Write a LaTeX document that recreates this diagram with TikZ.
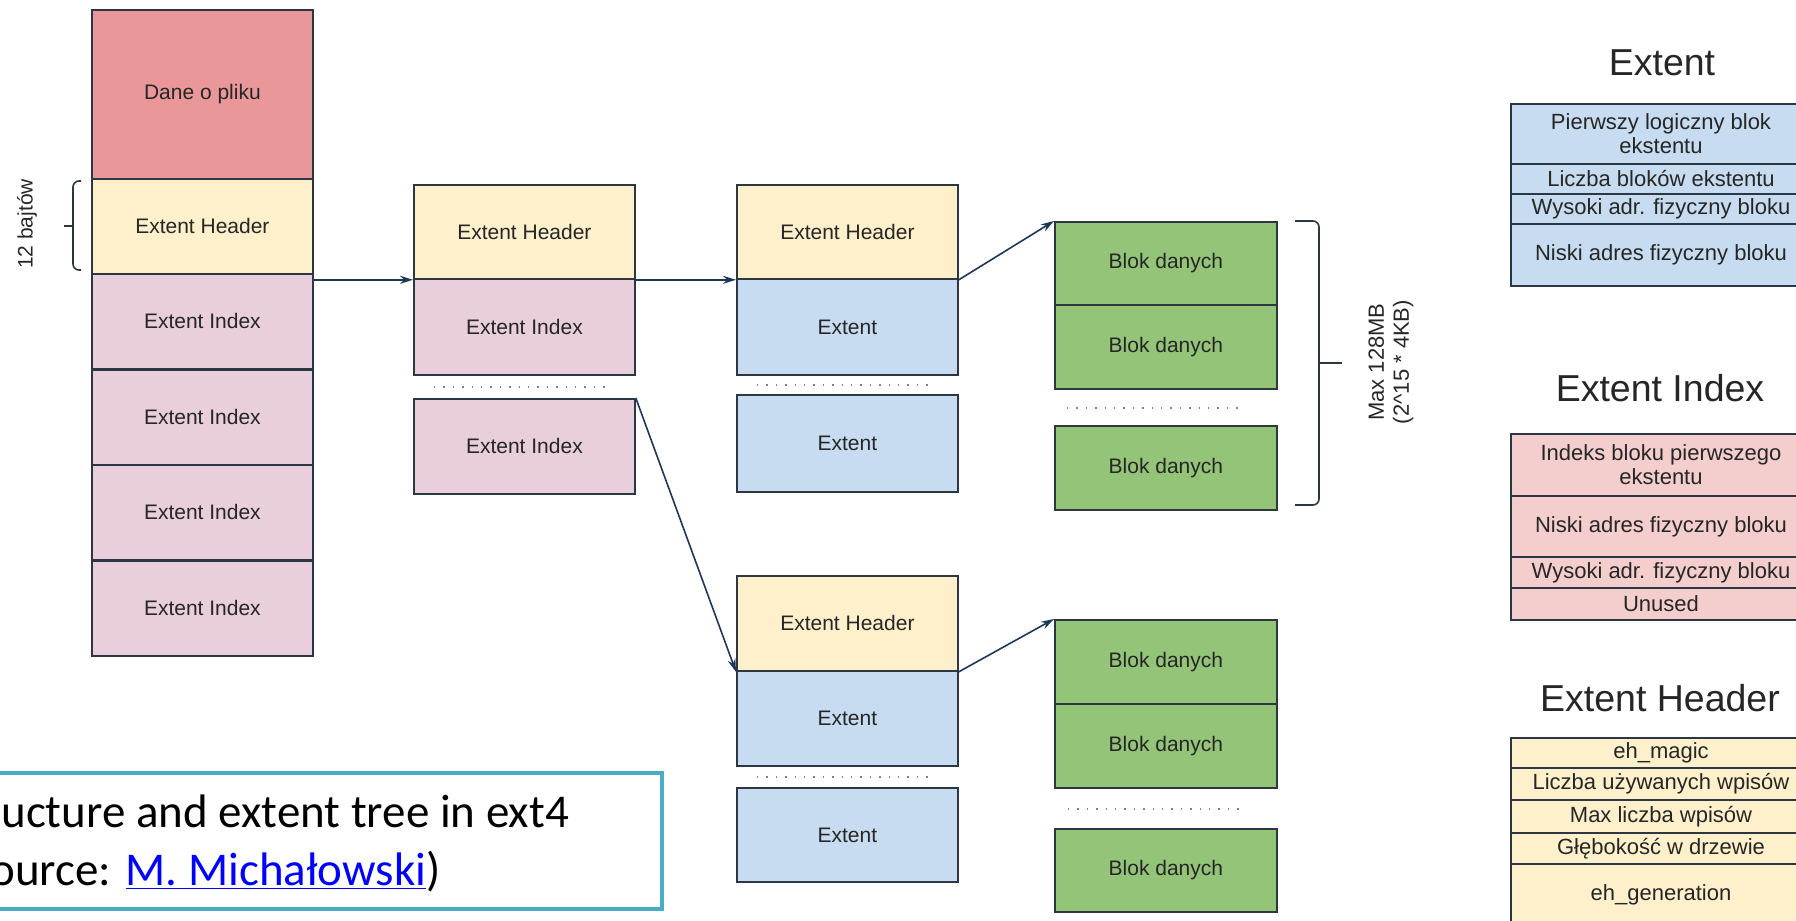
\documentclass[tikz,border=0pt]{standalone}
\usepackage{fontspec}
\setmainfont{Liberation Sans}
\newfontfamily\capfont{Carlito}
\usetikzlibrary{arrows.meta}

\definecolor{danefill}{RGB}{233,151,152}
\definecolor{hdrfill}{RGB}{253,240,203}
\definecolor{eifill}{RGB}{233,206,219}
\definecolor{extfill}{RGB}{199,220,240}
\definecolor{blkfill}{RGB}{147,196,120}
\definecolor{tpink}{RGB}{244,205,205}
\definecolor{boxline}{RGB}{45,55,68}
\definecolor{arrowc}{RGB}{30,55,88}
\definecolor{capline}{RGB}{75,172,198}
\definecolor{linkblue}{RGB}{0,0,255}

\begin{document}
\begin{tikzpicture}[x=0.5pt, y=-0.5pt,
    box/.style={draw=boxline, line width=0.9pt, minimum width=110.5pt, inner sep=0pt,
        anchor=north west, text=black!85, font=\fontsize{10.5}{12}\selectfont},
    hdr/.style={box, fill=hdrfill},
    eidx/.style={box, fill=eifill},
    ext/.style={box, fill=extfill},
    blk/.style={box, fill=blkfill, minimum width=111pt, minimum height=42pt},
    trow/.style={draw=boxline, line width=1pt, minimum width=150pt, inner sep=0pt,
        anchor=north west, align=center, text=black!85, font=\fontsize{11}{12}\selectfont},
    ttl/.style={text=black!85, font=\fontsize{18.75}{20}\selectfont},
    lbl/.style={text=black!85, font=\fontsize{10.5}{12.5}\selectfont, align=center},
    conn/.style={draw=arrowc, line width=0.8pt, -{Stealth[length=6.5pt, width=4pt]}},
    brc/.style={draw=boxline, line width=0.8pt, rounded corners=3pt},
    dots/.style={draw=gray, line width=0.7pt, dash pattern=on 0.7pt off 4pt},
    captxt/.style={anchor=base west, inner sep=0pt, font=\capfont\fontsize{23.5}{28}\selectfont}
]
    \useasboundingbox (0,0) rectangle (1796,921);

    % inode: left column
    \node[box, fill=danefill, minimum height=84.5pt] (ldane) at (91,9) {Dane o pliku};
    \node[hdr, minimum height=47.5pt] (lhdr) at (91,178) {Extent Header};
    \foreach \y/\n in {273/1, 369/2, 464/3, 560/4}
        \node[eidx, minimum height=47.5pt] (lei\n) at (91,\y) {Extent Index};

    % 12 bytes bracket
    \draw[brc] (81,181) -- (73,181) -- (73,270) -- (81,270);
    \draw[brc] (73,226) -- (64,226);
    \node[lbl, rotate=90] (bajty) at (27,224) {12 bajtów};

    % index node
    \node[hdr, minimum height=47pt] (c1hdr) at (413,184) {Extent Header};
    \node[eidx, minimum height=48pt] (c1ei) at (413,278) {Extent Index};
    \draw[dots] (434,387) -- (610,387);
    \node[eidx, minimum height=47.5pt] (c1ei2) at (413,398) {Extent Index};

    % leaf nodes
    \node[hdr, minimum height=47pt] (c2hdr) at (736,184) {Extent Header};
    \node[ext, minimum height=48pt] (c2ext) at (736,278) {Extent};
    \draw[dots] (757,385) -- (932,385);
    \node[ext, minimum height=48.5pt] (c2ext2) at (736,394) {Extent};

    \node[hdr, minimum height=47.5pt] (c3hdr) at (736,575) {Extent Header};
    \node[ext, minimum height=47.5pt] (c3ext) at (736,670) {Extent};
    \draw[dots] (757,777) -- (933,777);
    \node[ext, minimum height=47pt] (c3ext2) at (736,787) {Extent};

    % data blocks
    \node[blk, minimum height=41.5pt] (b1) at (1054,221) {Blok danych};
    \node[blk] (b2) at (1054,304) {Blok danych};
    \draw[dots] (1067,408) -- (1243,408);
    \node[blk] (b3) at (1054,425) {Blok danych};

    \node[blk] (b4) at (1054,619) {Blok danych};
    \node[blk] (b5) at (1054,703) {Blok danych};
    \draw[dots] (1068,809) -- (1245,809);
    \node[blk, minimum height=41.5pt] (b6) at (1054,828) {Blok danych};

    % max extent size bracket
    \draw[brc] (1295,221) -- (1319,221) -- (1319,505) -- (1295,505);
    \draw[brc] (1319,363) -- (1342,363);
    \node[lbl, rotate=90, font=\fontsize{11}{12.5}\selectfont] (maxsz) at (1391,362)
        {Max 128MB\\(2\textasciicircum 15 * 4KB)};

    % pointers
    \draw[conn] (lei1.north east |- c1hdr.south west) -- (c1hdr.south west);
    \draw[conn] (c1hdr.south east) -- (c2hdr.south west);
    \draw[conn] (c2hdr.south east) -- (b1.north west);
    \draw[conn] (c1ei2.north east) -- (c3hdr.south west);
    \draw[conn] (c3hdr.south east) -- (b4.north west);

    % legend: Extent
    \node[ttl] (tExt) at (1662,63) {Extent};
    \node[trow, fill=extfill, minimum height=30pt] (x1) at (1510,103) {Pierwszy logiczny blok\\ekstentu};
    \node[trow, fill=extfill, minimum height=15pt] (x2) at (1510,163) {Liczba bloków ekstentu};
    \node[trow, fill=extfill, minimum height=15pt] (x3) at (1510,193) {Wysoki adr. fizyczny bloku};
    \node[trow, fill=extfill, minimum height=31pt] (x4) at (1510,223) {Niski adres fizyczny bloku};

    % legend: Extent Index
    \node[ttl] (tEi) at (1660,388) {Extent Index};
    \node[trow, fill=tpink, minimum height=31pt] (i1) at (1510,433) {Indeks bloku pierwszego\\ekstentu};
    \node[trow, fill=tpink, minimum height=30.5pt] (i2) at (1510,495) {Niski adres fizyczny bloku};
    \node[trow, fill=tpink, minimum height=15.5pt] (i3) at (1510,556) {Wysoki adr. fizyczny bloku};
    \node[trow, fill=tpink, minimum height=16pt] (i4) at (1510,587) {Unused};

    % legend: Extent Header
    \node[ttl] (tEh) at (1660,698) {Extent Header};
    \node[trow, fill=hdrfill, minimum height=15pt] (h1) at (1510,737) {eh\_magic};
    \node[trow, fill=hdrfill, minimum height=16pt] (h2) at (1510,767) {Liczba używanych wpisów};
    \node[trow, fill=hdrfill, minimum height=16.5pt] (h3) at (1510,799) {Max liczba wpisów};
    \node[trow, fill=hdrfill, minimum height=15.5pt] (h4) at (1510,832) {Głębokość w drzewie};
    \node[trow, fill=hdrfill, minimum height=31pt] (h5) at (1510,863) {eh\_generation};

    % caption
    \draw[draw=capline, line width=2pt, fill=white] (-10,773) rectangle (662,909);
    \node[captxt] (cap1) at (1,827) {ucture and extent tree in ext4};
    \node[captxt] (cap2) at (-10,885) {ource: \textcolor{linkblue}{\underline{M. Michałowski}})};
\end{tikzpicture}
\end{document}
